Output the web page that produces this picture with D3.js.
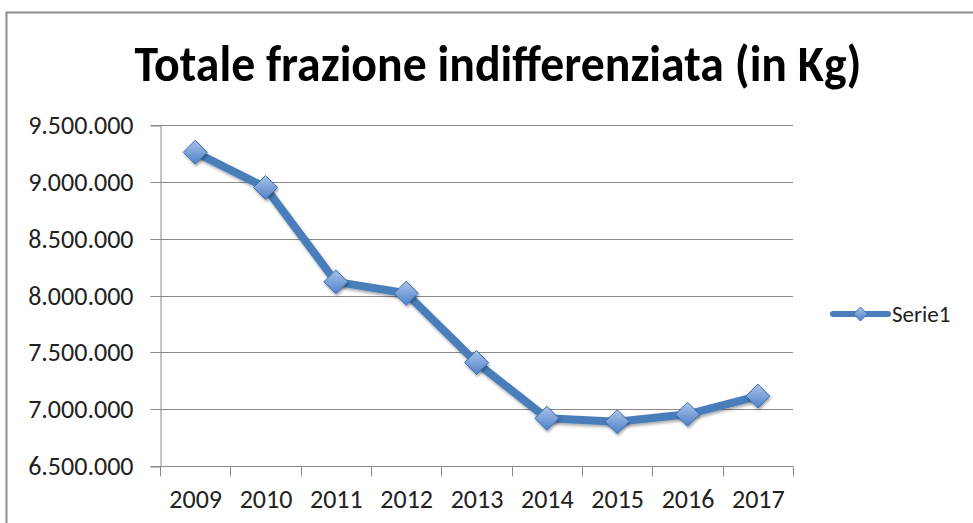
<!DOCTYPE html>
<html>
<head>
<meta charset="utf-8">
<script src="https://cdn.jsdelivr.net/npm/d3@7"></script>
<style>
  body { margin: 0; background: #fff; }
  svg { display: block; }
</style>
</head>
<body>
<div id="container"></div>
<script>
const years = ['2009', '2010', '2011', '2012', '2013', '2014', '2015', '2016', '2017'];
const serie1 = [9260000, 8950000, 8120000, 8020000, 7410000, 6920000, 6890000, 6955000, 7115000];
const yTicks = [6500000, 7000000, 7500000, 8000000, 8500000, 9000000, 9500000];

const width = 973, height = 523;
const margin = { top: 125, right: 180, bottom: 57, left: 160 };
const blue = '#4a7ebb';
const font = 'Carlito, Calibri, "Open Sans", sans-serif';

const svg = d3.select('#container').append('svg')
  .attr('width', width)
  .attr('height', height);

const defs = svg.append('defs');
const grad = defs.append('linearGradient')
  .attr('id', 'mk')
  .attr('x1', 0).attr('y1', 0).attr('x2', 0).attr('y2', 1);
grad.append('stop').attr('offset', '0%').attr('stop-color', '#a9c4ea');
grad.append('stop').attr('offset', '100%').attr('stop-color', '#4f81c9');
const shadow = defs.append('filter').attr('id', 'sh')
  .attr('x', '-50%').attr('y', '-50%').attr('width', '200%').attr('height', '200%');
shadow.append('feDropShadow')
  .attr('dx', 1).attr('dy', 2).attr('stdDeviation', 1.6)
  .attr('flood-color', '#000').attr('flood-opacity', 0.35);

// chart frame
svg.append('rect')
  .attr('x', 6.5).attr('y', 12.5)
  .attr('width', width + 20).attr('height', height + 20)
  .attr('fill', 'none')
  .attr('stroke', '#8c8c8c')
  .attr('stroke-width', 2);

const x = d3.scaleBand()
  .domain(years)
  .range([margin.left, 793]);

const y = d3.scaleLinear()
  .domain([6500000, 9500000])
  .range([height - margin.bottom, margin.top]);

const fmt = (d) => d3.format(',')(d).replace(/,/g, '.');

// gridlines
svg.append('g')
  .selectAll('line')
  .data(yTicks)
  .enter()
  .append('line')
  .attr('x1', margin.left).attr('x2', 793)
  .attr('y1', (d) => Math.round(y(d)) + 0.5)
  .attr('y2', (d) => Math.round(y(d)) + 0.5)
  .attr('stroke', '#8a8a8a')
  .attr('stroke-width', 1);

// y axis
const yAxis = svg.append('g')
  .attr('transform', `translate(${margin.left + 0.5},0.5)`)
  .call(d3.axisLeft(y).tickValues(yTicks).tickFormat(fmt).tickSize(10).tickPadding(17));
yAxis.select('.domain').attr('stroke', '#8a8a8a');
yAxis.selectAll('.tick line').attr('stroke', '#8a8a8a');
yAxis.selectAll('.tick text')
  .attr('fill', '#222')
  .attr('dy', '0.34em')
  .style('font-family', font)
  .style('font-size', '26px');
yAxis.selectAll('.tick').attr('transform', (d) => `translate(0,${Math.round(y(d))})`);

// x axis
const xAxis = svg.append('g')
  .attr('transform', `translate(0.5,${Math.round(y(6500000)) + 0.5})`)
  .call(d3.axisBottom(x).tickSize(0).tickPadding(23));
xAxis.select('.domain').remove();
xAxis.selectAll('.tick text')
  .attr('fill', '#222')
  .style('font-family', font)
  .style('font-size', '26px');
xAxis.selectAll('.sep')
  .data(years.concat(['end']))
  .enter()
  .append('line')
  .attr('class', 'sep')
  .attr('x1', (d, i) => Math.round(margin.left + i * x.step()))
  .attr('x2', (d, i) => Math.round(margin.left + i * x.step()))
  .attr('y1', 0).attr('y2', 10)
  .attr('stroke', '#8a8a8a');

// series line
const cx = (d, i) => x(years[i]) + x.bandwidth() / 2;
const line = d3.line()
  .x(cx)
  .y((d) => y(d));

svg.append('path')
  .datum(serie1)
  .attr('d', line)
  .attr('fill', 'none')
  .attr('stroke', blue)
  .attr('stroke-width', 8)
  .attr('stroke-linejoin', 'round')
  .attr('filter', 'url(#sh)');

const diamond = (r) => `M0,${-r}L${r},0L0,${r}L${-r},0Z`;
svg.append('g')
  .selectAll('path')
  .data(serie1)
  .enter()
  .append('path')
  .attr('d', diamond(12))
  .attr('transform', (d, i) => `translate(${cx(d, i)},${y(d)})`)
  .attr('fill', 'url(#mk)')
  .attr('stroke', '#3f6fae')
  .attr('stroke-width', 1)
  .attr('filter', 'url(#sh)');

// legend
const legend = svg.append('g').attr('transform', 'translate(833,314)');
legend.append('line')
  .attr('x1', 0).attr('x2', 55)
  .attr('stroke', blue)
  .attr('stroke-width', 6)
  .attr('stroke-linecap', 'round');
legend.append('path')
  .attr('d', diamond(7))
  .attr('transform', 'translate(27.5,0)')
  .attr('fill', 'url(#mk)')
  .attr('stroke', '#3f6fae');
legend.append('text')
  .attr('x', 59).attr('y', 8)
  .attr('fill', '#222')
  .style('font-family', font)
  .style('font-size', '23px')
  .text('Serie1');

// title
const title = svg.append('text')
  .attr('x', 498).attr('y', 81)
  .attr('text-anchor', 'middle')
  .style('font-family', font)
  .style('font-weight', 'bold')
  .style('font-size', '51px')
  .attr('fill', '#000')
  .attr('textLength', 727)
  .attr('lengthAdjust', 'spacingAndGlyphs')
  .text('Totale frazione indifferenziata (in Kg)');
</script>
</body>
</html>
